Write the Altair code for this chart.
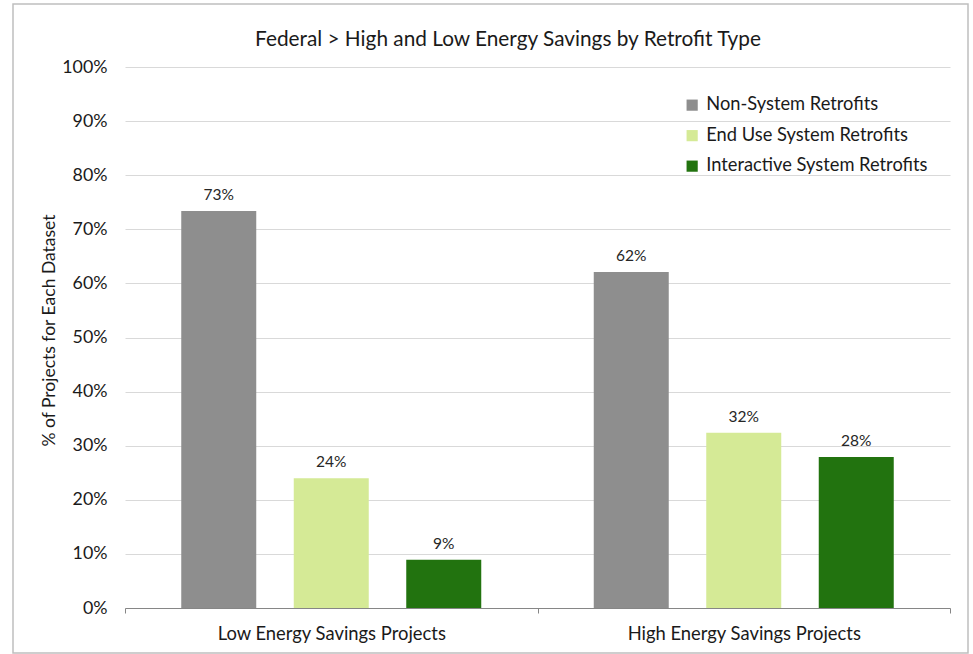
import altair as alt
import pandas as pd

# Share of projects per dataset, by retrofit type
groups = ["Low Energy Savings Projects", "High Energy Savings Projects"]
series = ["Non-System Retrofits", "End Use System Retrofits", "Interactive System Retrofits"]
low_values = [0.734, 0.240, 0.089]
high_values = [0.621, 0.324, 0.279]
colors = ["#8e8e8e", "#d5ea96", "#22730f"]
y_ticks = [i / 10 for i in range(11)]
chart_title = "Federal > High and Low Energy Savings by Retrofit Type"

rows = []
for g, vals in zip(groups, [low_values, high_values]):
    for s, v in zip(series, vals):
        rows.append({"group": g, "series": s, "value": v})
df = pd.DataFrame(rows)

FONT = "Lato"
W, H = 825, 541

x_enc = alt.X(
    "group:N",
    sort=groups,
    title=None,
    scale=alt.Scale(paddingInner=0, paddingOuter=0),
    axis=alt.Axis(
        labelFontSize=18.4,
        labelColor="#1a1a1a",
        labelPadding=11,
        labelLimit=0,
        domainColor="#868686",
        tickColor="#868686",
        tickBand="extent",
        tickSize=5,
        labelAngle=0,
        grid=False,
    ),
)
xoff = alt.XOffset(
    "series:N",
    sort=series,
    scale=alt.Scale(paddingInner=1 / 3, paddingOuter=0.5),
)
y_enc = alt.Y(
    "value:Q",
    scale=alt.Scale(domain=[0, 1], nice=False),
    title="% of Projects for Each Dataset",
    axis=alt.Axis(
        format=".0%",
        values=y_ticks,
        labelFontSize=17.8,
        labelColor="#1a1a1a",
        labelPadding=18,
        ticks=False,
        domain=False,
        gridColor="#d9d9d9",
        gridWidth=1.2,
        titleFontSize=17.5,
        titleFontWeight="normal",
        titleColor="#1a1a1a",
        titleX=-76,
        titleY=263,
        titleBaseline="middle",
    ),
)
color_enc = alt.Color(
    "series:N",
    sort=series,
    scale=alt.Scale(domain=series, range=colors),
    legend=alt.Legend(
        title=None,
        orient="none",
        legendX=558,
        legendY=29,
        symbolType="square",
        symbolSize=125,
        symbolStrokeWidth=0,
        symbolOpacity=1,
        labelFontSize=18.3,
        labelLimit=0,
        labelColor="#1a1a1a",
        labelOffset=5,
        rowPadding=11.5,
        padding=0,
    ),
)

bars = alt.Chart(df).mark_bar(size=75).encode(
    x=x_enc, xOffset=xoff, y=y_enc, color=color_enc
)

labels = alt.Chart(df).mark_text(
    baseline="bottom", dy=-8, fontSize=15.5, font=FONT, color="#262626"
).encode(
    x=alt.X("group:N", sort=groups),
    xOffset=xoff,
    y="value:Q",
    text=alt.Text("value:Q", format=".0%"),
)

# Chart heading, placed in pixel space above the plot
heading = alt.Chart(pd.DataFrame({"t": [chart_title]})).mark_text(
    fontSize=20.8, font=FONT, color="#1a1a1a", baseline="alphabetic", align="center"
).encode(x=alt.value(383), y=alt.value(-21), text="t:N")

frame = alt.Chart(pd.DataFrame({"k": [0]})).mark_rect(
    fill=None, stroke="#bfbfbf", strokeWidth=1.5
).encode(
    x=alt.value(-112), x2=alt.value(843), y=alt.value(-63), y2=alt.value(586)
)

chart = (
    alt.layer(frame, bars, labels, heading)
    .properties(
        width=W,
        height=H,
        padding={"left": 125, "top": 67, "right": 23, "bottom": 46},
        autosize=alt.AutoSizeParams(type="none"),
        background="white",
    )
    .configure(font=FONT)
    .configure_view(stroke=None)
    .configure_axis(labelFont=FONT, titleFont=FONT)
    .configure_legend(labelFont=FONT)
)

chart.save("out.html", embed_options={"renderer": "svg", "actions": False})
